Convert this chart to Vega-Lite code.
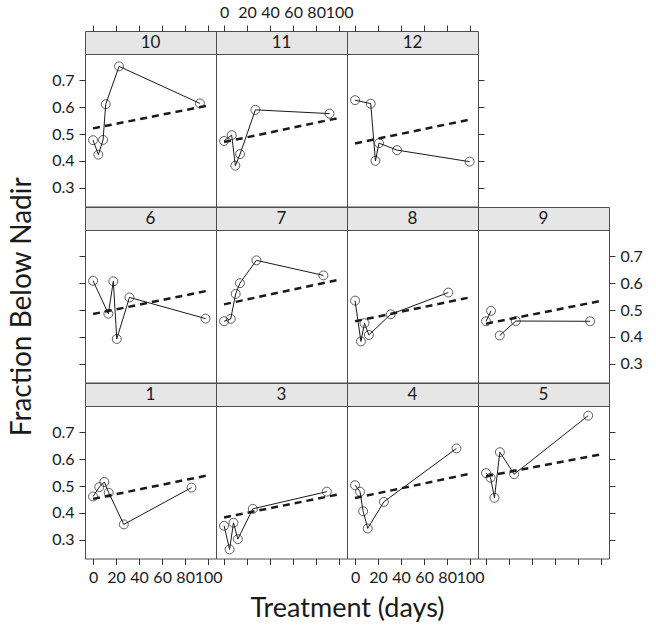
{
"$schema": "https://vega.github.io/schema/vega-lite/v6.json",
"background": "white",
"padding": {"left": 8, "top": 3, "right": 5, "bottom": 5},
"datasets": {
"pts": [
{"p":10,"g":1,"day":0,"v":0.477},{"p":10,"g":1,"day":4.6,"v":0.423},{"p":10,"g":1,"day":8.7,"v":0.478},{"p":10,"g":1,"day":11,"v":0.611},{"p":10,"g":1,"day":22.6,"v":0.752},{"p":10,"g":1,"day":92.8,"v":0.614},
{"p":11,"g":1,"day":0,"v":0.474},{"p":11,"g":1,"day":6.6,"v":0.496},{"p":11,"g":1,"day":9.8,"v":0.382},{"p":11,"g":1,"day":13.9,"v":0.425},{"p":11,"g":1,"day":27.2,"v":0.59},{"p":11,"g":1,"day":91.6,"v":0.576},
{"p":12,"g":1,"day":0,"v":0.626},{"p":12,"g":1,"day":13.6,"v":0.613},{"p":12,"g":1,"day":17.7,"v":0.40},{"p":12,"g":1,"day":20.8,"v":0.466},{"p":12,"g":1,"day":36.5,"v":0.44},{"p":12,"g":1,"day":99.5,"v":0.397},
{"p":6,"g":1,"day":0,"v":0.609},{"p":6,"g":1,"day":13.3,"v":0.486},{"p":6,"g":1,"day":17.6,"v":0.607},{"p":6,"g":1,"day":20.6,"v":0.392},{"p":6,"g":1,"day":31.6,"v":0.547},{"p":6,"g":1,"day":97.7,"v":0.468},
{"p":7,"g":1,"day":0,"v":0.458},{"p":7,"g":1,"day":5.8,"v":0.467},{"p":7,"g":1,"day":10.1,"v":0.56},{"p":7,"g":1,"day":13.8,"v":0.60},{"p":7,"g":1,"day":28.1,"v":0.685},{"p":7,"g":1,"day":86.3,"v":0.629},
{"p":8,"g":1,"day":0,"v":0.535},{"p":8,"g":1,"day":5.1,"v":0.383},{"p":8,"g":1,"day":8.2,"v":0.451},{"p":8,"g":1,"day":12,"v":0.407},{"p":8,"g":1,"day":31,"v":0.484},{"p":8,"g":1,"day":81,"v":0.565},
{"p":9,"g":1,"day":0,"v":0.458},{"p":9,"g":1,"day":4.3,"v":0.497},{"p":9,"g":2,"day":11.9,"v":0.405},{"p":9,"g":2,"day":25.8,"v":0.459},{"p":9,"g":2,"day":90.4,"v":0.458},
{"p":1,"g":1,"day":0,"v":0.461},{"p":1,"g":1,"day":5.4,"v":0.496},{"p":1,"g":1,"day":9.8,"v":0.515},{"p":1,"g":1,"day":13.6,"v":0.475},{"p":1,"g":1,"day":26.7,"v":0.357},{"p":1,"g":1,"day":85.5,"v":0.494},
{"p":3,"g":1,"day":0,"v":0.352},{"p":3,"g":1,"day":4.8,"v":0.264},{"p":3,"g":1,"day":8.2,"v":0.363},{"p":3,"g":1,"day":12,"v":0.302},{"p":3,"g":1,"day":25,"v":0.415},{"p":3,"g":1,"day":89.3,"v":0.479},
{"p":4,"g":1,"day":0,"v":0.503},{"p":4,"g":1,"day":4.3,"v":0.479},{"p":4,"g":1,"day":7,"v":0.406},{"p":4,"g":1,"day":11,"v":0.342},{"p":4,"g":1,"day":25,"v":0.441},{"p":4,"g":1,"day":88.1,"v":0.64},
{"p":5,"g":1,"day":0,"v":0.548},{"p":5,"g":1,"day":3.9,"v":0.531},{"p":5,"g":1,"day":7.3,"v":0.456},{"p":5,"g":1,"day":12,"v":0.626},{"p":5,"g":1,"day":24.4,"v":0.544},{"p":5,"g":1,"day":88.7,"v":0.762}
],
"fit": [
{"p":10,"day":0,"v":0.521},{"p":10,"day":101,"v":0.607},
{"p":11,"day":0,"v":0.47},{"p":11,"day":101,"v":0.561},
{"p":12,"day":0,"v":0.465},{"p":12,"day":101,"v":0.555},
{"p":6,"day":0,"v":0.485},{"p":6,"day":101,"v":0.573},
{"p":7,"day":0,"v":0.521},{"p":7,"day":101,"v":0.614},
{"p":8,"day":0,"v":0.458},{"p":8,"day":101,"v":0.548},
{"p":9,"day":0,"v":0.449},{"p":9,"day":101,"v":0.535},
{"p":1,"day":0,"v":0.452},{"p":1,"day":101,"v":0.541},
{"p":3,"day":0,"v":0.383},{"p":3,"day":101,"v":0.47},
{"p":4,"day":0,"v":0.455},{"p":4,"day":101,"v":0.547},
{"p":5,"day":0,"v":0.536},{"p":5,"day":101,"v":0.619}
]
},
"columns": 4,
"spacing": 0,
"bounds": "flush",
"align": "each",
"concat": [
{"width":131,"height":23,"view":{"fill":"#e6e6e6","stroke":"#4d4d4d"},
 "layer":[
  {"data":{"name":"pts"},"transform":[{"filter":"datum.p==10"}],"mark":{"type":"point","opacity":0},"encoding":{"x":{"field":"day","type":"quantitative","scale":{"domain":[-7,106.8],"nice":false,"zero":false},"axis":{"orient":"top","values":[0,20,40,60,80,100],"labels":false},"title":null}}},
  {"data":{"values":[{}]},"mark":{"type":"text","fontSize":17,"font":"Lato","color":"#1a1a1a"},"encoding":{"text":{"value":"10"}}}
 ]},
{"width":131,"height":23,"view":{"fill":"#e6e6e6","stroke":"#4d4d4d"},
 "layer":[
  {"data":{"name":"pts"},"transform":[{"filter":"datum.p==11"}],"mark":{"type":"point","opacity":0},"encoding":{"x":{"field":"day","type":"quantitative","scale":{"domain":[-7,106.8],"nice":false,"zero":false},"axis":{"orient":"top","values":[0,20,40,60,80,100]},"title":null}}},
  {"data":{"values":[{}]},"mark":{"type":"text","fontSize":17,"font":"Lato","color":"#1a1a1a"},"encoding":{"text":{"value":"11"}}}
 ]},
{"width":131,"height":23,"view":{"fill":"#e6e6e6","stroke":"#4d4d4d"},
 "layer":[
  {"data":{"name":"pts"},"transform":[{"filter":"datum.p==12"}],"mark":{"type":"point","opacity":0},"encoding":{"x":{"field":"day","type":"quantitative","scale":{"domain":[-7,106.8],"nice":false,"zero":false},"axis":{"orient":"top","values":[0,20,40,60,80,100],"labels":false},"title":null}}},
  {"data":{"values":[{}]},"mark":{"type":"text","fontSize":17,"font":"Lato","color":"#1a1a1a"},"encoding":{"text":{"value":"12"}}}
 ]},
{"width":131,"height":23,"view":{"stroke":null},"data":{"values":[{}]},"mark":{"type":"point","opacity":0},"encoding":{}},
{"width":131,"height":152.5,
 "encoding":{"x":{"field":"day","type":"quantitative","scale":{"domain":[-7,106.8],"nice":false,"zero":false},"axis":null,"title":null},
  "y":{"field":"v","type":"quantitative","scale":{"domain":[0.23,0.798],"nice":false,"zero":false},"axis":{"orient":"left","values":[0.3,0.4,0.5,0.6,0.7],"format":".1f"},"title":null}},
 "layer":[
  {"data":{"name":"fit"},"transform":[{"filter":"datum.p==10"}],"mark":{"type":"line","strokeDash":[7,5],"strokeWidth":2.5,"color":"#1a1a1a"},"encoding":{}},
  {"data":{"name":"pts"},"transform":[{"filter":"datum.p==10"}],"mark":{"type":"line","strokeWidth":1,"color":"#1a1a1a"},"encoding":{"detail":{"field":"g"}}},
  {"data":{"name":"pts"},"transform":[{"filter":"datum.p==10"}],"mark":{"type":"point","shape":"circle","filled":false,"size":80,"strokeWidth":1,"color":"#1a1a1a"},"encoding":{}}
 ]},
{"width":131,"height":152.5,
 "encoding":{"x":{"field":"day","type":"quantitative","scale":{"domain":[-7,106.8],"nice":false,"zero":false},"axis":null,"title":null},
  "y":{"field":"v","type":"quantitative","scale":{"domain":[0.23,0.798],"nice":false,"zero":false},"axis":null,"title":null}},
 "layer":[
  {"data":{"name":"fit"},"transform":[{"filter":"datum.p==11"}],"mark":{"type":"line","strokeDash":[7,5],"strokeWidth":2.5,"color":"#1a1a1a"},"encoding":{}},
  {"data":{"name":"pts"},"transform":[{"filter":"datum.p==11"}],"mark":{"type":"line","strokeWidth":1,"color":"#1a1a1a"},"encoding":{"detail":{"field":"g"}}},
  {"data":{"name":"pts"},"transform":[{"filter":"datum.p==11"}],"mark":{"type":"point","shape":"circle","filled":false,"size":80,"strokeWidth":1,"color":"#1a1a1a"},"encoding":{}}
 ]},
{"width":131,"height":152.5,
 "encoding":{"x":{"field":"day","type":"quantitative","scale":{"domain":[-7,106.8],"nice":false,"zero":false},"axis":null,"title":null},
  "y":{"field":"v","type":"quantitative","scale":{"domain":[0.23,0.798],"nice":false,"zero":false},"axis":{"orient":"right","values":[0.3,0.4,0.5,0.6,0.7],"labels":false},"title":null}},
 "layer":[
  {"data":{"name":"fit"},"transform":[{"filter":"datum.p==12"}],"mark":{"type":"line","strokeDash":[7,5],"strokeWidth":2.5,"color":"#1a1a1a"},"encoding":{}},
  {"data":{"name":"pts"},"transform":[{"filter":"datum.p==12"}],"mark":{"type":"line","strokeWidth":1,"color":"#1a1a1a"},"encoding":{"detail":{"field":"g"}}},
  {"data":{"name":"pts"},"transform":[{"filter":"datum.p==12"}],"mark":{"type":"point","shape":"circle","filled":false,"size":80,"strokeWidth":1,"color":"#1a1a1a"},"encoding":{}}
 ]},
{"width":131,"height":152.5,"view":{"stroke":null},"data":{"values":[{}]},"mark":{"type":"point","opacity":0},"encoding":{}},
{"width":131,"height":23,"view":{"fill":"#e6e6e6","stroke":"#4d4d4d"},"data":{"values":[{}]},"mark":{"type":"text","fontSize":17,"font":"Lato","color":"#1a1a1a"},"encoding":{"text":{"value":"6"}}},
{"width":131,"height":23,"view":{"fill":"#e6e6e6","stroke":"#4d4d4d"},"data":{"values":[{}]},"mark":{"type":"text","fontSize":17,"font":"Lato","color":"#1a1a1a"},"encoding":{"text":{"value":"7"}}},
{"width":131,"height":23,"view":{"fill":"#e6e6e6","stroke":"#4d4d4d"},"data":{"values":[{}]},"mark":{"type":"text","fontSize":17,"font":"Lato","color":"#1a1a1a"},"encoding":{"text":{"value":"8"}}},
{"width":131,"height":23,"view":{"fill":"#e6e6e6","stroke":"#4d4d4d"},"data":{"values":[{}]},"mark":{"type":"text","fontSize":17,"font":"Lato","color":"#1a1a1a"},"encoding":{"text":{"value":"9"}}},
{"width":131,"height":152.5,
 "encoding":{"x":{"field":"day","type":"quantitative","scale":{"domain":[-7,106.8],"nice":false,"zero":false},"axis":null,"title":null},
  "y":{"field":"v","type":"quantitative","scale":{"domain":[0.23,0.798],"nice":false,"zero":false},"axis":{"orient":"left","values":[0.3,0.4,0.5,0.6,0.7],"labels":false,"titlePadding":42,"titleFontSize":28},"title":"Fraction Below Nadir"}},
 "layer":[
  {"data":{"name":"fit"},"transform":[{"filter":"datum.p==6"}],"mark":{"type":"line","strokeDash":[7,5],"strokeWidth":2.5,"color":"#1a1a1a"},"encoding":{}},
  {"data":{"name":"pts"},"transform":[{"filter":"datum.p==6"}],"mark":{"type":"line","strokeWidth":1,"color":"#1a1a1a"},"encoding":{"detail":{"field":"g"}}},
  {"data":{"name":"pts"},"transform":[{"filter":"datum.p==6"}],"mark":{"type":"point","shape":"circle","filled":false,"size":80,"strokeWidth":1,"color":"#1a1a1a"},"encoding":{}}
 ]},
{"width":131,"height":152.5,
 "encoding":{"x":{"field":"day","type":"quantitative","scale":{"domain":[-7,106.8],"nice":false,"zero":false},"axis":null,"title":null},
  "y":{"field":"v","type":"quantitative","scale":{"domain":[0.23,0.798],"nice":false,"zero":false},"axis":null,"title":null}},
 "layer":[
  {"data":{"name":"fit"},"transform":[{"filter":"datum.p==7"}],"mark":{"type":"line","strokeDash":[7,5],"strokeWidth":2.5,"color":"#1a1a1a"},"encoding":{}},
  {"data":{"name":"pts"},"transform":[{"filter":"datum.p==7"}],"mark":{"type":"line","strokeWidth":1,"color":"#1a1a1a"},"encoding":{"detail":{"field":"g"}}},
  {"data":{"name":"pts"},"transform":[{"filter":"datum.p==7"}],"mark":{"type":"point","shape":"circle","filled":false,"size":80,"strokeWidth":1,"color":"#1a1a1a"},"encoding":{}}
 ]},
{"width":131,"height":152.5,
 "encoding":{"x":{"field":"day","type":"quantitative","scale":{"domain":[-7,106.8],"nice":false,"zero":false},"axis":null,"title":null},
  "y":{"field":"v","type":"quantitative","scale":{"domain":[0.23,0.798],"nice":false,"zero":false},"axis":null,"title":null}},
 "layer":[
  {"data":{"name":"fit"},"transform":[{"filter":"datum.p==8"}],"mark":{"type":"line","strokeDash":[7,5],"strokeWidth":2.5,"color":"#1a1a1a"},"encoding":{}},
  {"data":{"name":"pts"},"transform":[{"filter":"datum.p==8"}],"mark":{"type":"line","strokeWidth":1,"color":"#1a1a1a"},"encoding":{"detail":{"field":"g"}}},
  {"data":{"name":"pts"},"transform":[{"filter":"datum.p==8"}],"mark":{"type":"point","shape":"circle","filled":false,"size":80,"strokeWidth":1,"color":"#1a1a1a"},"encoding":{}}
 ]},
{"width":131,"height":152.5,
 "encoding":{"x":{"field":"day","type":"quantitative","scale":{"domain":[-7,106.8],"nice":false,"zero":false},"axis":null,"title":null},
  "y":{"field":"v","type":"quantitative","scale":{"domain":[0.23,0.798],"nice":false,"zero":false},"axis":{"orient":"right","values":[0.3,0.4,0.5,0.6,0.7],"format":".1f"},"title":null}},
 "layer":[
  {"data":{"name":"fit"},"transform":[{"filter":"datum.p==9"}],"mark":{"type":"line","strokeDash":[7,5],"strokeWidth":2.5,"color":"#1a1a1a"},"encoding":{}},
  {"data":{"name":"pts"},"transform":[{"filter":"datum.p==9"}],"mark":{"type":"line","strokeWidth":1,"color":"#1a1a1a"},"encoding":{"detail":{"field":"g"}}},
  {"data":{"name":"pts"},"transform":[{"filter":"datum.p==9"}],"mark":{"type":"point","shape":"circle","filled":false,"size":80,"strokeWidth":1,"color":"#1a1a1a"},"encoding":{}}
 ]},
{"width":131,"height":23,"view":{"fill":"#e6e6e6","stroke":"#4d4d4d"},"data":{"values":[{}]},"mark":{"type":"text","fontSize":17,"font":"Lato","color":"#1a1a1a"},"encoding":{"text":{"value":"1"}}},
{"width":131,"height":23,"view":{"fill":"#e6e6e6","stroke":"#4d4d4d"},"data":{"values":[{}]},"mark":{"type":"text","fontSize":17,"font":"Lato","color":"#1a1a1a"},"encoding":{"text":{"value":"3"}}},
{"width":131,"height":23,"view":{"fill":"#e6e6e6","stroke":"#4d4d4d"},"data":{"values":[{}]},"mark":{"type":"text","fontSize":17,"font":"Lato","color":"#1a1a1a"},"encoding":{"text":{"value":"4"}}},
{"width":131,"height":23,"view":{"fill":"#e6e6e6","stroke":"#4d4d4d"},"data":{"values":[{}]},"mark":{"type":"text","fontSize":17,"font":"Lato","color":"#1a1a1a"},"encoding":{"text":{"value":"5"}}},
{"width":131,"height":152.5,
 "encoding":{"x":{"field":"day","type":"quantitative","scale":{"domain":[-7,106.8],"nice":false,"zero":false},"axis":{"orient":"bottom","values":[0,20,40,60,80,100]},"title":null},
  "y":{"field":"v","type":"quantitative","scale":{"domain":[0.23,0.798],"nice":false,"zero":false},"axis":{"orient":"left","values":[0.3,0.4,0.5,0.6,0.7],"format":".1f"},"title":null}},
 "layer":[
  {"data":{"name":"fit"},"transform":[{"filter":"datum.p==1"}],"mark":{"type":"line","strokeDash":[7,5],"strokeWidth":2.5,"color":"#1a1a1a"},"encoding":{}},
  {"data":{"name":"pts"},"transform":[{"filter":"datum.p==1"}],"mark":{"type":"line","strokeWidth":1,"color":"#1a1a1a"},"encoding":{"detail":{"field":"g"}}},
  {"data":{"name":"pts"},"transform":[{"filter":"datum.p==1"}],"mark":{"type":"point","shape":"circle","filled":false,"size":80,"strokeWidth":1,"color":"#1a1a1a"},"encoding":{}}
 ]},
{"width":131,"height":152.5,
 "encoding":{"x":{"field":"day","type":"quantitative","scale":{"domain":[-7,106.8],"nice":false,"zero":false},"axis":{"orient":"bottom","values":[0,20,40,60,80,100],"labels":false,"titleAnchor":"end","titleAlign":"center","titlePadding":30,"titleFontSize":27},"title":"Treatment (days)"},
  "y":{"field":"v","type":"quantitative","scale":{"domain":[0.23,0.798],"nice":false,"zero":false},"axis":null,"title":null}},
 "layer":[
  {"data":{"name":"fit"},"transform":[{"filter":"datum.p==3"}],"mark":{"type":"line","strokeDash":[7,5],"strokeWidth":2.5,"color":"#1a1a1a"},"encoding":{}},
  {"data":{"name":"pts"},"transform":[{"filter":"datum.p==3"}],"mark":{"type":"line","strokeWidth":1,"color":"#1a1a1a"},"encoding":{"detail":{"field":"g"}}},
  {"data":{"name":"pts"},"transform":[{"filter":"datum.p==3"}],"mark":{"type":"point","shape":"circle","filled":false,"size":80,"strokeWidth":1,"color":"#1a1a1a"},"encoding":{}}
 ]},
{"width":131,"height":152.5,
 "encoding":{"x":{"field":"day","type":"quantitative","scale":{"domain":[-7,106.8],"nice":false,"zero":false},"axis":{"orient":"bottom","values":[0,20,40,60,80,100]},"title":null},
  "y":{"field":"v","type":"quantitative","scale":{"domain":[0.23,0.798],"nice":false,"zero":false},"axis":null,"title":null}},
 "layer":[
  {"data":{"name":"fit"},"transform":[{"filter":"datum.p==4"}],"mark":{"type":"line","strokeDash":[7,5],"strokeWidth":2.5,"color":"#1a1a1a"},"encoding":{}},
  {"data":{"name":"pts"},"transform":[{"filter":"datum.p==4"}],"mark":{"type":"line","strokeWidth":1,"color":"#1a1a1a"},"encoding":{"detail":{"field":"g"}}},
  {"data":{"name":"pts"},"transform":[{"filter":"datum.p==4"}],"mark":{"type":"point","shape":"circle","filled":false,"size":80,"strokeWidth":1,"color":"#1a1a1a"},"encoding":{}}
 ]},
{"width":131,"height":152.5,
 "encoding":{"x":{"field":"day","type":"quantitative","scale":{"domain":[-7,106.8],"nice":false,"zero":false},"axis":{"orient":"bottom","values":[0,20,40,60,80,100],"labels":false},"title":null},
  "y":{"field":"v","type":"quantitative","scale":{"domain":[0.23,0.798],"nice":false,"zero":false},"axis":{"orient":"right","values":[0.3,0.4,0.5,0.6,0.7],"labels":false},"title":null}},
 "layer":[
  {"data":{"name":"fit"},"transform":[{"filter":"datum.p==5"}],"mark":{"type":"line","strokeDash":[7,5],"strokeWidth":2.5,"color":"#1a1a1a"},"encoding":{}},
  {"data":{"name":"pts"},"transform":[{"filter":"datum.p==5"}],"mark":{"type":"line","strokeWidth":1,"color":"#1a1a1a"},"encoding":{"detail":{"field":"g"}}},
  {"data":{"name":"pts"},"transform":[{"filter":"datum.p==5"}],"mark":{"type":"point","shape":"circle","filled":false,"size":80,"strokeWidth":1,"color":"#1a1a1a"},"encoding":{}}
 ]}
],
"config": {
 "view": {"stroke": "#4d4d4d", "strokeWidth": 1},
 "axis": {"tickSize": 6, "tickWidth": 1, "domain": false, "grid": false, "labelFontSize": 16, "labelFont": "Lato", "labelColor": "#1a1a1a", "tickColor": "#333333", "labelPadding": 5, "labelFlush": false, "labelOverlap": false, "titleFont": "Lato", "titleFontWeight": "normal", "titleColor": "#1a1a1a", "titleFontSize": 27}
}
}
